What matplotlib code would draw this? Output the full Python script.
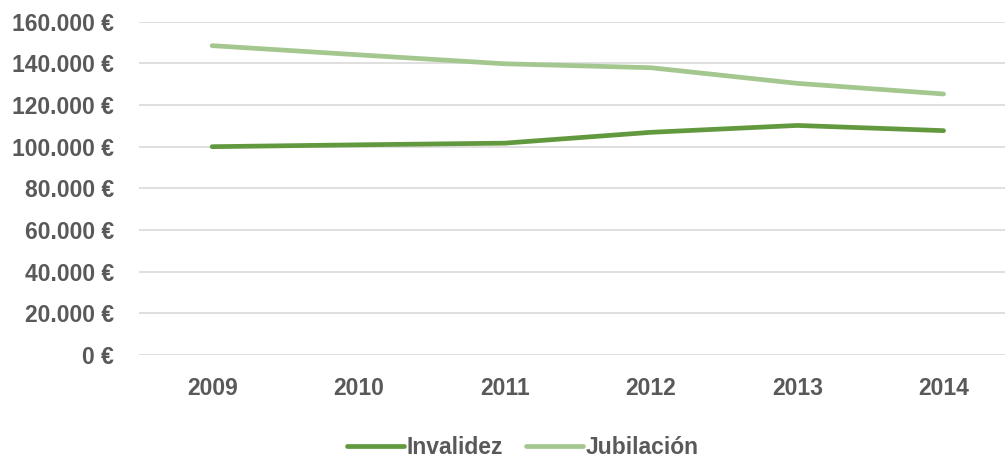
import matplotlib as mpl
import numpy as np
from matplotlib import pyplot as plt
from matplotlib import font_manager

years = ["2009", "2010", "2011", "2012", "2013", "2014"]
invalidez = [100000, 100900, 101700, 106900, 110200, 107700]
jubilacion = [148500, 144100, 139800, 137900, 130400, 125300]
y_ticks = [0, 20000, 40000, 60000, 80000, 100000, 120000, 140000, 160000]

# condensed font if available, like Arial Narrow in the original
names = {f.name for f in font_manager.fontManager.ttflist}
family = ["Liberation Sans Narrow", "DejaVu Sans"] if "Liberation Sans Narrow" in names else ["Liberation Sans", "DejaVu Sans"]
plt.rcParams['font.family'] = family

text_color = "#595959"
fs = 16.5

def euro(v):
    return "{:,.0f} €".format(v).replace(",", ".")

fig = plt.figure(figsize=(10.05, 4.59), dpi=100)
ax = fig.add_axes([139 / 1005, 1 - 355 / 459, 1 - 139 / 1005, (355 - 21.7) / 459])

x = np.arange(len(years))
ax.plot(x, invalidez, color="#62993E", lw=3.4, solid_capstyle="round", label="Invalidez", zorder=3)
ax.plot(x, jubilacion, color="#A3C78F", lw=3.4, solid_capstyle="round", label="Jubilación", zorder=3)

ax.set_xlim(-0.5, 5.42)
ax.set_ylim(0, 160000)
ax.set_yticks(y_ticks)
ax.set_yticklabels([euro(v) for v in y_ticks])
ax.set_xticks(x)
ax.set_xticklabels(years)
ax.yaxis.grid(True, color="#D9D9D9", lw=1.2)
ax.set_axisbelow(True)
for s in ax.spines.values():
    s.set_visible(False)
ax.tick_params(length=0, labelsize=fs, labelcolor=text_color)
ax.tick_params(axis="y", pad=18)
ax.tick_params(axis="x", pad=16)
for lab in ax.get_xticklabels() + ax.get_yticklabels():
    lab.set_fontweight("bold")

leg = fig.legend(loc="center", bbox_to_anchor=(0.52, 1 - 448 / 459), ncol=2, frameon=False,
                 handlelength=2.5, handletextpad=0.1, columnspacing=1.0,
                 prop={"weight": "bold", "size": fs})
for t in leg.get_texts():
    t.set_color(text_color)

fig.savefig("out.png", dpi=100)
